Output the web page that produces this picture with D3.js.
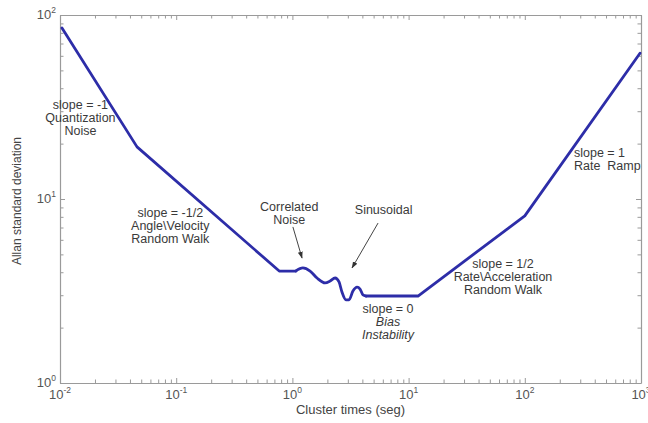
<!DOCTYPE html>
<html><head><meta charset="utf-8">
<script src="https://cdn.jsdelivr.net/npm/d3@7"></script>
<style>
body{margin:0;background:#fff;}
text{font-family:"Liberation Sans",Arial,sans-serif;}
</style></head>
<body><svg id="c" width="648" height="423"></svg>
<script>
// ---- data ----
const tauValues = [0.0104, 0.046, 0.77, 1.07, 1.23, 1.42, 1.63, 1.91, 2.11, 2.33, 2.52, 2.67, 2.89, 3.07, 3.32, 3.6, 3.82, 4.05, 4.3, 12.05, 100, 980];
const sigmaValues = [85, 19.2, 4.06, 4.06, 4.22, 4.06, 3.72, 3.5, 3.58, 3.72, 3.54, 3.12, 2.83, 2.83, 3.16, 3.32, 3.24, 3.01, 2.97, 2.97, 8.1, 62];
// indices where the smooth (correlated / sinusoidal) part begins and ends
const smoothFrom = 3, smoothTo = 18;
const xTickExps = [-2, -1, 0, 1, 2, 3];
const yTickExps = [0, 1, 2];
const annoLabels = [
  ["slope = -1", "Quantization", "Noise"],
  ["slope = -1/2", "Angle\\Velocity", "Random Walk"],
  ["Correlated", "Noise"],
  ["Sinusoidal"],
  ["slope = 0", "Bias", "Instability"],
  ["slope = 1/2", "Rate\\Acceleration", "Random Walk"],
  ["slope = 1", "Rate  Ramp"]
];
const annoX = [0.015, 0.089, 0.94, 6.1, 6.65, 64.9, 265];
const annoY = [31, 8.0, 8.6, 8.3, 2.4, 4.22, 16.9];
const arrowFromX = [1.01, 5.46];
const arrowFromY = [7.05, 7.4];
const arrowToX = [1.21, 3.26];
const arrowToY = [4.78, 4.22];
const xTitle = "Cluster times (seg)";
const yTitle = "Allan standard deviation";

// ---- layout ----
const W = 648, H = 423;
const m = {left: 60, right: 7, top: 15, bottom: 40};
const svg = d3.select("#c");
const x = d3.scaleLog().domain([1e-2, 1e3]).range([m.left, W - m.right]);
const y = d3.scaleLog().domain([1, 100]).range([H - m.bottom, m.top]);

const axisCol = "#9a9a9a";
function allTicks(lo, hi){ const t=[]; for(let e=lo;e<hi;e++){for(let k=1;k<10;k++) t.push(k*Math.pow(10,e));} t.push(Math.pow(10,hi)); return t; }
const xt = allTicks(-2, 3), yt = allTicks(0, 2);
const isMajor = v => Math.abs(Math.log10(v) - Math.round(Math.log10(v))) < 1e-9;

function styleAxis(g){
  g.select(".domain").attr("stroke", axisCol).attr("stroke-width", 1.2);
  g.selectAll(".tick line").attr("stroke", axisCol).attr("stroke-width", 1);
  g.selectAll(".tick text").remove();
}
const tsz = v => isMajor(v) ? 5 : 3.5;
const gb = svg.append("g").attr("transform", `translate(0,${H-m.bottom})`)
  .call(d3.axisBottom(x).tickValues(xt).tickSize(0).tickSizeOuter(0)).call(styleAxis);
gb.selectAll(".tick line").attr("y2", d => -tsz(d));
const gt = svg.append("g").attr("transform", `translate(0,${m.top})`)
  .call(d3.axisTop(x).tickValues(xt).tickSize(0).tickSizeOuter(0)).call(styleAxis);
gt.selectAll(".tick line").attr("y2", d => tsz(d));
const gl = svg.append("g").attr("transform", `translate(${m.left},0)`)
  .call(d3.axisLeft(y).tickValues(yt).tickSize(0).tickSizeOuter(0)).call(styleAxis);
gl.selectAll(".tick line").attr("x2", d => tsz(d));
const gr = svg.append("g").attr("transform", `translate(${W-m.right},0)`)
  .call(d3.axisRight(y).tickValues(yt).tickSize(0).tickSizeOuter(0)).call(styleAxis);
gr.selectAll(".tick line").attr("x2", d => -tsz(d));

// tick labels
const tickCol = "#555";
xTickExps.forEach(e => {
  const t = svg.append("text").attr("x", x(Math.pow(10,e))).attr("y", H - m.bottom + 16)
    .attr("text-anchor","middle").attr("font-size", 13).attr("fill", tickCol);
  t.append("tspan").text("10");
  t.append("tspan").attr("dy", -6).attr("font-size", 8.5).text(String(e));
});
yTickExps.forEach(e => {
  const t = svg.append("text").attr("x", m.left - 4).attr("y", y(Math.pow(10,e)) + 4)
    .attr("text-anchor","end").attr("font-size", 13).attr("fill", tickCol);
  t.append("tspan").text("10");
  t.append("tspan").attr("dy", -6).attr("font-size", 8.5).text(String(e));
});

// titles
svg.append("text").attr("x", (x(1e-2)+x(1e3))/2).attr("y", H - 9)
  .attr("text-anchor","middle").attr("font-size", 13).attr("fill", "#444").text(xTitle);
svg.append("text").attr("transform", `translate(21,${(y(1)+y(100))/2 + 2}) rotate(-90)`)
  .attr("text-anchor","middle").attr("font-size", 12).attr("fill", "#444").text(yTitle);

// curve: straight segments with a smooth wiggly middle section
const pts = tauValues.map((t,i)=>[t, sigmaValues[i]]);
const lineLin = d3.line().x(d=>x(d[0])).y(d=>y(d[1]));
const lineSmooth = d3.line().x(d=>x(d[0])).y(d=>y(d[1])).curve(d3.curveMonotoneX);
const style = p => p.attr("fill","none").attr("stroke","#2d2da8").attr("stroke-width",2.8)
  .attr("stroke-linejoin","round").attr("stroke-linecap","round");
svg.append("path").datum(pts.slice(0, smoothFrom + 1)).attr("d", lineLin).call(style);
svg.append("path").datum(pts.slice(smoothFrom, smoothTo + 1)).attr("d", lineSmooth).call(style);
svg.append("path").datum(pts.slice(smoothTo)).attr("d", lineLin).call(style);

// arrows
svg.append("defs").append("marker").attr("id","ah").attr("viewBox","0 0 10 10")
  .attr("refX",9).attr("refY",5).attr("markerWidth",7).attr("markerHeight",7)
  .attr("orient","auto").append("path").attr("d","M0,1.5L10,5L0,8.5Z").attr("fill","#333");
arrowFromX.forEach((fx,i)=>{
  svg.append("line").attr("x1",x(fx)).attr("y1",y(arrowFromY[i]))
    .attr("x2",x(arrowToX[i])).attr("y2",y(arrowToY[i]))
    .attr("stroke","#444").attr("stroke-width",1).attr("marker-end","url(#ah)");
});

// annotations
annoLabels.forEach((lines,i)=>{
  const left = i === 6;
  const t = svg.append("text").attr("x", x(annoX[i])).attr("y", y(annoY[i]))
    .attr("text-anchor", left ? "start" : "middle").attr("font-size", 12.5).attr("fill","#3a3a3a")
    .attr("xml:space","preserve");
  lines.forEach((s,j)=>{
    const ts = t.append("tspan").attr("x", x(annoX[i])).attr("dy", j===0?0:13).text(s);
    if (i===4 && j>0) ts.attr("font-style","italic");
  });
});
</script></body></html>
